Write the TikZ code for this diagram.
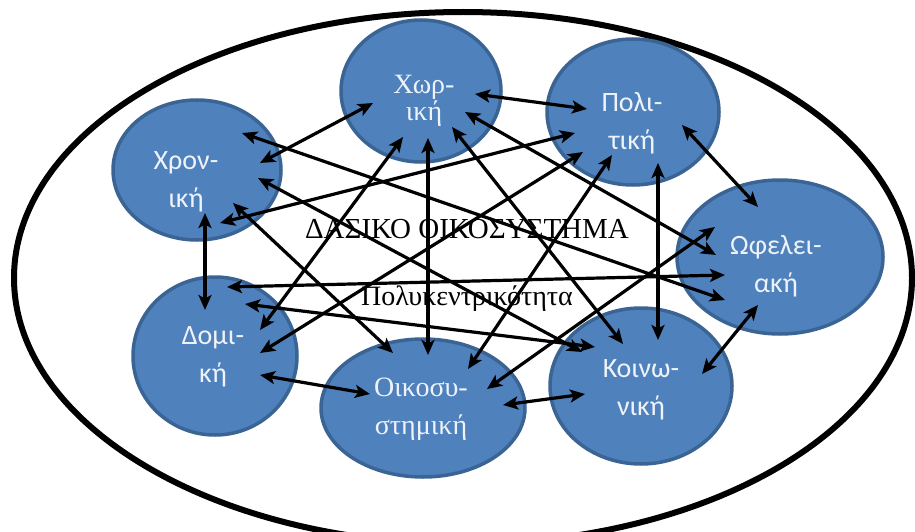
\documentclass[tikz,border=0pt]{standalone}
\usepackage{fontspec}
\setmainfont{Liberation Serif}
\newfontfamily\labfont{Carlito}
\usetikzlibrary{calc,arrows.meta,shapes.geometric}
\definecolor{blobfill}{HTML}{4F81BD}
\definecolor{blobline}{HTML}{3A6494}
\definecolor{labtext}{HTML}{EEF3FA}
\begin{document}
\begin{tikzpicture}[x=1pt,y=-1pt,
  blob/.style={ellipse, fill=blobfill, draw=blobline, line width=3.5pt, inner sep=0pt},
  sanslab/.style={text=labtext, align=center, inner sep=0pt, font=\labfont\fontsize{28}{38}\selectfont},
  seriflab/.style={text=labtext, align=center, inner sep=0pt, font=\fontsize{28}{38}\selectfont},
  title/.style={anchor=base, inner sep=0pt, font=\fontsize{29}{34}\selectfont},
  arr/.style={line width=3.2pt, {Stealth[length=15pt,width=13pt,inset=3.5pt]}-{Stealth[length=15pt,width=13pt,inset=3.5pt]}},
]
\useasboundingbox (0,0) rectangle (915,532);
\clip (0,0) rectangle (915,532);
\fill[white] (0,0) rectangle (915,532);

% outer ellipse
\draw[line width=6pt] (463,278) ellipse [x radius=449, y radius=266];

% nodes
\node[blob, minimum width=168pt, minimum height=140pt] (chron) at (197,170) {};
\node[blob, minimum width=160pt, minimum height=142pt] (xor) at (421,91) {};
\node[blob, minimum width=172pt, minimum height=146pt] (pol) at (633,112) {};
\node[blob, minimum width=206pt, minimum height=154pt] (ofel) at (780,257) {};
\node[blob, minimum width=164pt, minimum height=158pt] (dom) at (215,356) {};
\node[blob, minimum width=204pt, minimum height=138pt] (oik) at (423,408) {};
\node[blob, minimum width=182pt, minimum height=156pt] (koin) at (641,386) {};

% labels
\node[sanslab] (chronT) at (186,182) {Χρον-\\ική};
\node[seriflab, font=\fontsize{28}{27}\selectfont] (xorT) at (424,101) {Χωρ-\\ική};
\node[sanslab] (polT) at (632,123) {Πολι-\\τική};
\node[sanslab] (ofelT) at (776,266) {Ωφελει-\\ακή};
\node[sanslab] (domT) at (213,357) {Δομι-\\κή};
\node[seriflab] (oikT) at (421,409) {Οικοσυ-\\στημική};
\node[sanslab] (koinT) at (641,390) {Κοινω-\\νική};

% centre texts
\node[title] (forest) at (467,238) {ΔΑΣΙΚΟ ΟΙΚΟΣΥΣΤΗΜΑ};
\node[title, font=\fontsize{28}{34}\selectfont] (poly) at (467,305) {Πολυκεντρικότητα};

% connectors (complete graph)
\draw[arr] ($(chron)+(63,-7)$) -- ($(xor)+(-48,12)$);
\draw[arr] ($(xor)+(54,3)$) -- ($(pol)+(-46,-3)$);
\draw[arr] ($(pol)+(49,13)$) -- ($(ofel)+(-22,-50)$);
\draw[arr] ($(ofel)+(-22,48)$) -- ($(koin)+(61,-12)$);
\draw[arr] ($(koin)+(-56,8)$) -- ($(oik)+(80,-3)$);
\draw[arr] ($(oik)+(-53,-14)$) -- ($(dom)+(45,19)$);
\draw[arr] ($(dom)+(-10,-46)$) -- ($(chron)+(8,43)$);
\draw[arr] ($(chron)+(23,53)$) -- ($(pol)+(-58,21)$);
\draw[arr] ($(chron)+(45,-37)$) -- ($(ofel)+(-55,43)$);
\draw[arr] ($(chron)+(61,8)$) -- ($(koin)+(-59,-34)$);
\draw[arr] ($(chron)+(36,33)$) -- ($(oik)+(-30,-55)$);
\draw[arr] ($(xor)+(44,21)$) -- ($(ofel)+(-64,-2)$);
\draw[arr] ($(xor)+(31,36)$) -- ($(koin)+(-18,-42)$);
\draw[arr] ($(xor)+(7,47)$) -- ($(oik)+(5,-53)$);
\draw[arr] ($(xor)+(-18,46)$) -- ($(dom)+(45,-26)$);
\draw[arr] ($(pol)+(25,51)$) -- ($(koin)+(17,-46)$);
\draw[arr] ($(pol)+(-21,43)$) -- ($(oik)+(45,-39)$);
\draw[arr] ($(pol)+(-50,40)$) -- ($(dom)+(45,-3)$);
\draw[arr] ($(ofel)+(-55,18)$) -- ($(dom)+(12,-69)$);
\draw[arr] ($(ofel)+(-65,-30)$) -- ($(oik)+(64,-19)$);
\draw[arr] ($(koin)+(-46,-39)$) -- ($(dom)+(30,-52)$);
\end{tikzpicture}
\end{document}
